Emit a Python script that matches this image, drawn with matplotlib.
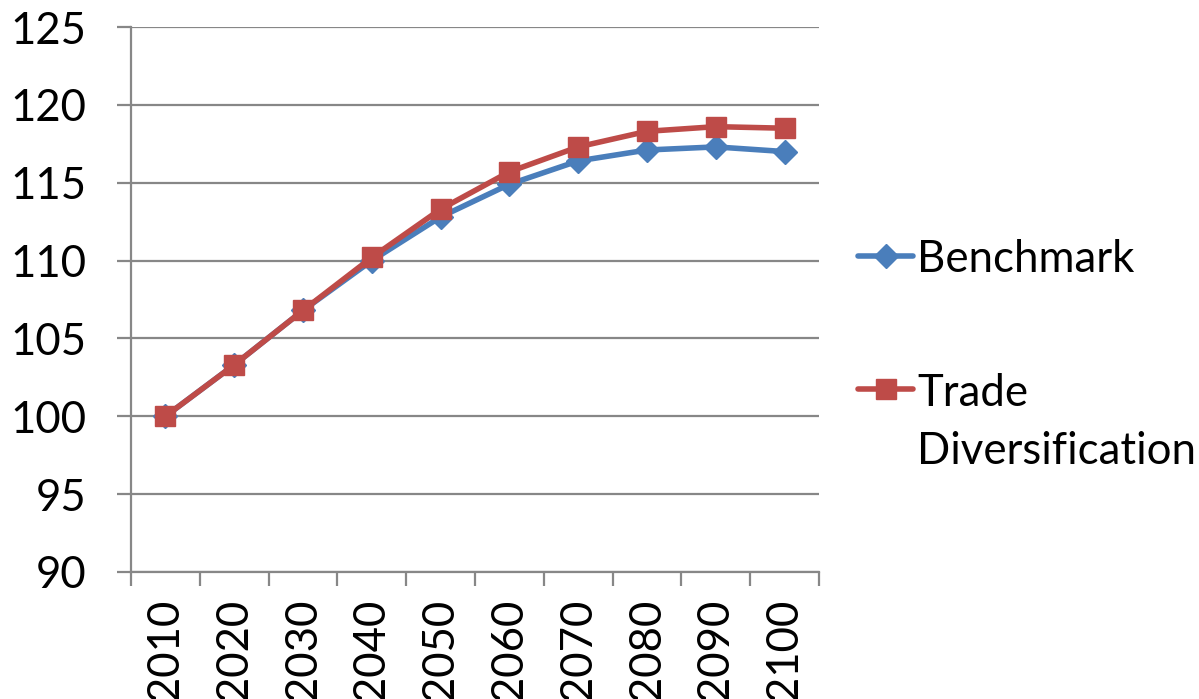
import matplotlib
matplotlib.use("Agg")
import matplotlib.pyplot as plt
from matplotlib.lines import Line2D
import numpy as np

years = ["2010", "2020", "2030", "2040", "2050", "2060", "2070", "2080", "2090", "2100"]
benchmark = [100.0, 103.3, 106.8, 110.0, 112.8, 114.9, 116.4, 117.1, 117.3, 117.0]
trade_div = [100.0, 103.3, 106.8, 110.2, 113.3, 115.7, 117.3, 118.3, 118.6, 118.5]
y_ticks = [90, 95, 100, 105, 110, 115, 120, 125]

BLUE = "#4A7EBB"
RED = "#BE4B48"
GRID = "#878787"
FONT = "Lato"
FS = 31.5

plt.rcParams["font.family"] = [FONT, "DejaVu Sans"]

fig = plt.figure(figsize=(11.99, 6.99), dpi=100)
ax = fig.add_axes([131 / 1199, 1 - 572 / 699, (819 - 131) / 1199, (572 - 27) / 699])

x = np.arange(len(years))
ax.plot(x, benchmark, color=BLUE, lw=4, marker="D", ms=12.5, mfc=BLUE, mec=BLUE, zorder=3)
ax.plot(x, trade_div, color=RED, lw=4, marker="s", ms=14, mfc=RED, mec=RED, zorder=4)

ax.set_xlim(-0.5, len(years) - 0.5)
ax.set_ylim(90, 125)
ax.set_yticks(y_ticks)
ax.set_yticklabels([str(v) for v in y_ticks], fontsize=FS)
ax.yaxis.grid(True, color=GRID, lw=1.6)
ax.set_axisbelow(True)

# category labels sit between boundary ticks
ax.set_xticks(x)
ax.set_xticklabels(years, rotation=90, fontsize=FS, va="top")
ax.tick_params(axis="x", length=0, pad=19)
ax.set_xticks(np.arange(len(years) + 1) - 0.5, minor=True)
ax.tick_params(axis="x", which="minor", length=10, width=1.6, color=GRID)
ax.tick_params(axis="y", length=10, width=1.6, color=GRID, pad=22)

for side in ("top", "right"):
    ax.spines[side].set_visible(False)
for side in ("left", "bottom"):
    ax.spines[side].set_color(GRID)
    ax.spines[side].set_linewidth(1.6)

# legend drawn beside the plot
def legend_entry(y_px, color, marker, ms, lines):
    yf = 1 - y_px / 699
    fig.add_artist(Line2D([858 / 1199, 913 / 1199], [yf, yf], transform=fig.transFigure,
                          color=color, lw=4, solid_capstyle="round"))
    fig.add_artist(Line2D([885.5 / 1199], [yf], transform=fig.transFigure,
                          color=color, marker=marker, ms=ms, mfc=color, mec=color, lw=0))
    for i, t in enumerate(lines):
        fig.text(917 / 1199, 1 - (y_px + 58 * i) / 699, t, fontsize=FS,
                 ha="left", va="center_baseline")

legend_entry(256, BLUE, "D", 12.5, ["Benchmark"])
legend_entry(389, RED, "s", 14, ["Trade", "Diversification"])

fig.savefig("out.png", dpi=100)
